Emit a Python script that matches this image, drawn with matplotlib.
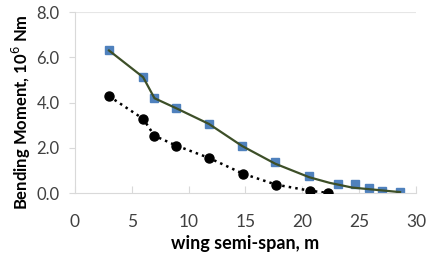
import matplotlib
matplotlib.use("Agg")
from matplotlib import pyplot as plt

# blue squares (markers only)
span_sq = [3.0, 6.0, 7.0, 8.9, 11.8, 14.7, 17.6, 20.6, 23.1, 24.6, 25.9, 27.0, 28.6]
moment_sq = [6.3, 5.12, 4.19, 3.75, 3.05, 2.1, 1.35, 0.74, 0.42, 0.38, 0.2, 0.1, 0.04]

# dark green curve drawn over the squares
span_line = [3.0, 6.0, 7.0, 8.9, 11.8, 14.7, 17.6, 20.6, 22.4, 24.4, 28.6]
moment_line = [6.3, 5.12, 4.19, 3.75, 3.05, 2.08, 1.3, 0.7, 0.45, 0.24, 0.04]

# black circles, dotted
span_dot = [3.0, 6.0, 7.0, 8.9, 11.8, 14.8, 17.7, 20.7, 22.3]
moment_dot = [4.28, 3.28, 2.53, 2.1, 1.55, 0.85, 0.37, 0.1, 0.0]

x_ticks = [0, 5, 10, 15, 20, 25, 30]
y_ticks = [0.0, 2.0, 4.0, 6.0, 8.0]

plt.rcParams["font.family"] = ["Lato", "DejaVu Sans"]

fig = plt.figure(figsize=(4.28, 2.56), dpi=100)
ax = fig.add_axes([0.175, 0.246, 0.797, 0.707])

ax.plot(span_sq, moment_sq, "s", color="#4f81bd", markersize=6, zorder=2)
ax.plot(span_line, moment_line, "-", color="#3d4f28", linewidth=1.6, zorder=3)
ax.plot(span_dot, moment_dot, ":", color="black", linewidth=1.8,
        marker="o", markersize=6.5, zorder=4)

ax.set_xlim(0, 30)
ax.set_ylim(0, 8)
ax.set_xticks(x_ticks)
ax.set_yticks(y_ticks)
ax.set_yticklabels(["%.1f" % v for v in y_ticks])
ax.axhline(8, color="#e6e6e6", linewidth=0.8, zorder=0)

for side in ["top", "right"]:
    ax.spines[side].set_visible(False)
for side in ["left", "bottom"]:
    ax.spines[side].set_color("#d9d9d9")
    ax.spines[side].set_linewidth(0.8)

ax.tick_params(axis="x", direction="in", length=5, color="#d9d9d9",
               pad=15, labelsize=12.5, labelcolor="#404040")
ax.tick_params(axis="y", direction="out", length=4, color="#d9d9d9",
               pad=7, labelsize=12, labelcolor="#404040")

ax.set_xlabel("wing semi-span, m", fontsize=13, fontweight="bold",
              labelpad=4)
fig.text(0.05, 0.56, "Bending Moment, 10$^6$ Nm", rotation=90,
         fontsize=12, fontweight="bold", ha="center", va="center")

fig.savefig("out.png", dpi=100, facecolor="white")
